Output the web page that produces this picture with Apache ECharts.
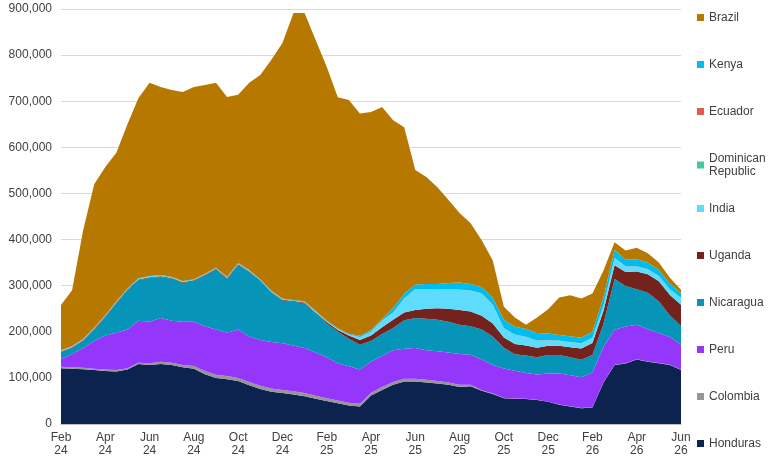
<!DOCTYPE html>
<html>
<head>
<meta charset="utf-8">
<script src="https://cdn.jsdelivr.net/npm/echarts@6/dist/echarts.min.js"></script>
<style>
	html, body { margin: 0; padding: 0; background: #fff; }
	#chart { width: 770px; height: 457px; }
</style>
</head>
<body>
<div id="chart"></div>
<script>
// half-monthly points, values in thousands
var dates = ['2024-02-01','2024-02-15','2024-03-01','2024-03-15','2024-04-01','2024-04-15','2024-05-01','2024-05-15',
	'2024-06-01','2024-06-15','2024-07-01','2024-07-15','2024-08-01','2024-08-15','2024-09-01','2024-09-15',
	'2024-10-01','2024-10-15','2024-11-01','2024-11-15','2024-12-01','2024-12-15','2025-01-01','2025-01-15',
	'2025-02-01','2025-02-15','2025-03-01','2025-03-15','2025-04-01','2025-04-15','2025-05-01','2025-05-15',
	'2025-06-01','2025-06-15','2025-07-01','2025-07-15','2025-08-01','2025-08-15','2025-09-01','2025-09-15',
	'2025-10-01','2025-10-15','2025-11-01','2025-11-15','2025-12-01','2025-12-15','2026-01-01','2026-01-15',
	'2026-02-01','2026-02-15','2026-03-01','2026-03-15','2026-04-01','2026-04-15','2026-05-01','2026-05-15','2026-06-01'];
var tickLabels = ['Feb\n24','Apr\n24','Jun\n24','Aug\n24','Oct\n24','Dec\n24','Feb\n25','Apr\n25',
	'Jun\n25','Aug\n25','Oct\n25','Dec\n25','Feb\n26','Apr\n26','Jun\n26'];
var yTicks = [0, 100, 200, 300, 400, 500, 600, 700, 800, 900];

var honduras = [121,120,119,117,115,114,118,130,128,130,128,123,120,108,100,97,93,84,76,70,67,64,60,55,50,45,40,38,
	62,74,85,92,92,90,88,85,80,82,72,65,56,55,54,52,48,42,38,34,36,90,128,131,140,135,132,128,117];
var colombia = [3,3,3,3,3,3,3,3,4,5,5,5,6,7,7,7,7,7,7,7,7,7,7,6,6,6,6,6,6,6,6,6,6,6,5,5,5,3,1,1,
	0.5,0.5,0.5,0.5,0.5,0.5,0.5,0.5,0.5,0.5,0.5,0.5,0.5,0.5,0.5,0.5,0.5];
var peru = [17,29,43,60,74,81,84,91,90,95,91,94,96,97,98,94,105,99,99,101,101,99,98,94,89,81,79,74,
	67,68,69,65,67,64,65,65,67,65,67,62,64,60,56,55,61,67,67,67,75,77,76,80,75,70,65,60,55];
var nicaragua = [15,13,15,25,40,64,85,88,95,89,91,84,88,110,130,117,140,140,128,107,93,95,97,85,73,68,60,54,
	45,47,48,62,65,68,68,67,63,62,65,62,45,36,38,37,40,40,39,38,38,50,110,88,77,79,68,47,40];
var uganda = [1.5,1.5,1.5,1.5,1.5,1.5,1.5,1.5,1.5,1.5,1.5,1.5,1.5,1.5,1.5,1.5,1.5,1.5,1.5,1.5,1.5,1.5,1.5,
	2,3,4,7,10,12,15,18,17,17,22,25,28,32,32,30,28,22,22,22,21,20,20,22,24,26,28,30,30,38,40,44,44,46];
var india = [1,1,1,1,1,1,1,1,1,1,1,1,1,1,1,1,1,1,1,1,1,1,1,1.5,1.5,1.5,1.5,
	6,8,14,15,30,45,42,40,42,44,45,48,40,20,20,18,15,12,11,11,11,11,11,15,12,11,11,11,12,14];
var dominican = [0.3,0.3,0.3,0.3,0.3,0.3,0.3,0.3,0.3,0.3,0.3,0.3,0.3,0.3,0.3,0.3,0.3,0.3,0.3,0.3,0.3,0.3,0.3,0.3,0.3,0.3,0.3,0.3,
	0.3,0.3,0.3,0.3,0.3,0.3,0.3,0.3,0.3,0.3,0.3,0.3,0.3,0.3,0.3,0.3,0.3,0.3,0.3,0.3,0.3,0.3,0.3,0.3,0.3,0.3,0.3,0.3,0.3];
var ecuador = [0.3,0.3,0.3,0.3,0.3,0.3,0.3,0.3,0.3,0.3,0.3,0.3,0.3,0.3,0.3,0.3,0.3,0.3,0.3,0.3,0.3,0.3,0.3,0.3,0.3,0.3,0.3,0.3,
	0.3,0.3,0.3,0.3,0.3,0.3,0.3,0.3,0.3,0.3,0.3,0.3,0.3,0.3,0.3,0.3,0.3,0.3,0.3,0.3,0.3,0.3,0.3,0.3,0.3,0.3,0.3,0.3,0.3];
var kenya = [1,1,1,1,1,1,1,1,1,1,1,1,1,1,1,1,1,1,1,1,1,1,1,1.5,1.5,1.5,1.5,
	3,3,3,10,10,10,11,12,13,15,14,13,15,18,17,17,16,14,12,12,12,13,17,17,14,15,14,13,12,11];
var brazil = [98,121,236,311,321,322,356,391,419,408,405,410,417,409,401,390,365,406,443,501,554,622,625,587,
	550,501,507,482,473,460,407,361,248,232,210,180,151,132,102,81,28,20,9,34,53,81,89,85,83,59,17,20,25,20,16,13,7];

// stacking order, bottom first
var seriesList = [
	['Honduras', honduras, '#0c2350'],
	['Colombia', colombia, '#969696'],
	['Peru', peru, '#9536fb'],
	['Nicaragua', nicaragua, '#0694b8'],
	['Uganda', uganda, '#74221d'],
	['India', india, '#5ddcfd'],
	['Dominican\nRepublic', dominican, '#3fcaa2'],
	['Ecuador', ecuador, '#e15b56'],
	['Kenya', kenya, '#00bdef'],
	['Brazil', brazil, '#b77800']
];

var font = 'Liberation Sans, Arial, sans-serif';
var series = [];
for(var i=0; i<seriesList.length; i++){
	series.push({
		name: seriesList[i][0],
		type: 'line',
		stack: 'total',
		data: seriesList[i][1],
		showSymbol: false,
		symbol: 'none',
		lineStyle: { width: 0 },
		areaStyle: { color: seriesList[i][2], opacity: 1 },
		itemStyle: { color: seriesList[i][2] },
		emphasis: { disabled: true },
		z: 2
	});
}

var legendText = { color: '#404040', fontSize: 12, fontFamily: font, lineHeight: 13 };

var option = {
	animation: false,
	grid: { left: 61, right: 89, top: 9, bottom: 33 },
	legend: [{
		orient: 'vertical',
		left: 697,
		top: 11,
		padding: 0,
		itemWidth: 7,
		itemHeight: 7,
		itemGap: 34,
		icon: 'rect',
		textStyle: legendText,
		data: ['Brazil', 'Kenya', 'Ecuador', 'Dominican\nRepublic']
	}, {
		orient: 'vertical',
		left: 697,
		top: 202,
		padding: 0,
		itemWidth: 7,
		itemHeight: 7,
		itemGap: 34,
		icon: 'rect',
		textStyle: legendText,
		data: ['India', 'Uganda', 'Nicaragua', 'Peru', 'Colombia', 'Honduras']
	}],
	xAxis: {
		type: 'category',
		data: dates,
		boundaryGap: false,
		axisLine: { lineStyle: { color: '#bfbfbf', width: 1 } },
		axisTick: { show: false },
		axisLabel: {
			interval: 3,
			margin: 7,
			color: '#404040',
			fontSize: 12,
			fontFamily: font,
			lineHeight: 13,
			formatter: function(v, idx){
				return tickLabels[idx / 4];
			}
		},
		z: 5
	},
	yAxis: {
		type: 'value',
		min: yTicks[0],
		max: yTicks[yTicks.length - 1],
		interval: 100,
		axisLine: { show: false },
		axisTick: { show: false },
		splitLine: { lineStyle: { color: '#d9d9d9', width: 1 } },
		axisLabel: {
			margin: 9,
			color: '#404040',
			fontSize: 12,
			fontFamily: font,
			formatter: function(v){
				return (v * 1000).toLocaleString('en-US');
			}
		}
	},
	series: series
};

var chart = echarts.init(document.getElementById('chart'), null, { renderer: 'canvas' });
chart.setOption(option);
</script>
</body>
</html>
